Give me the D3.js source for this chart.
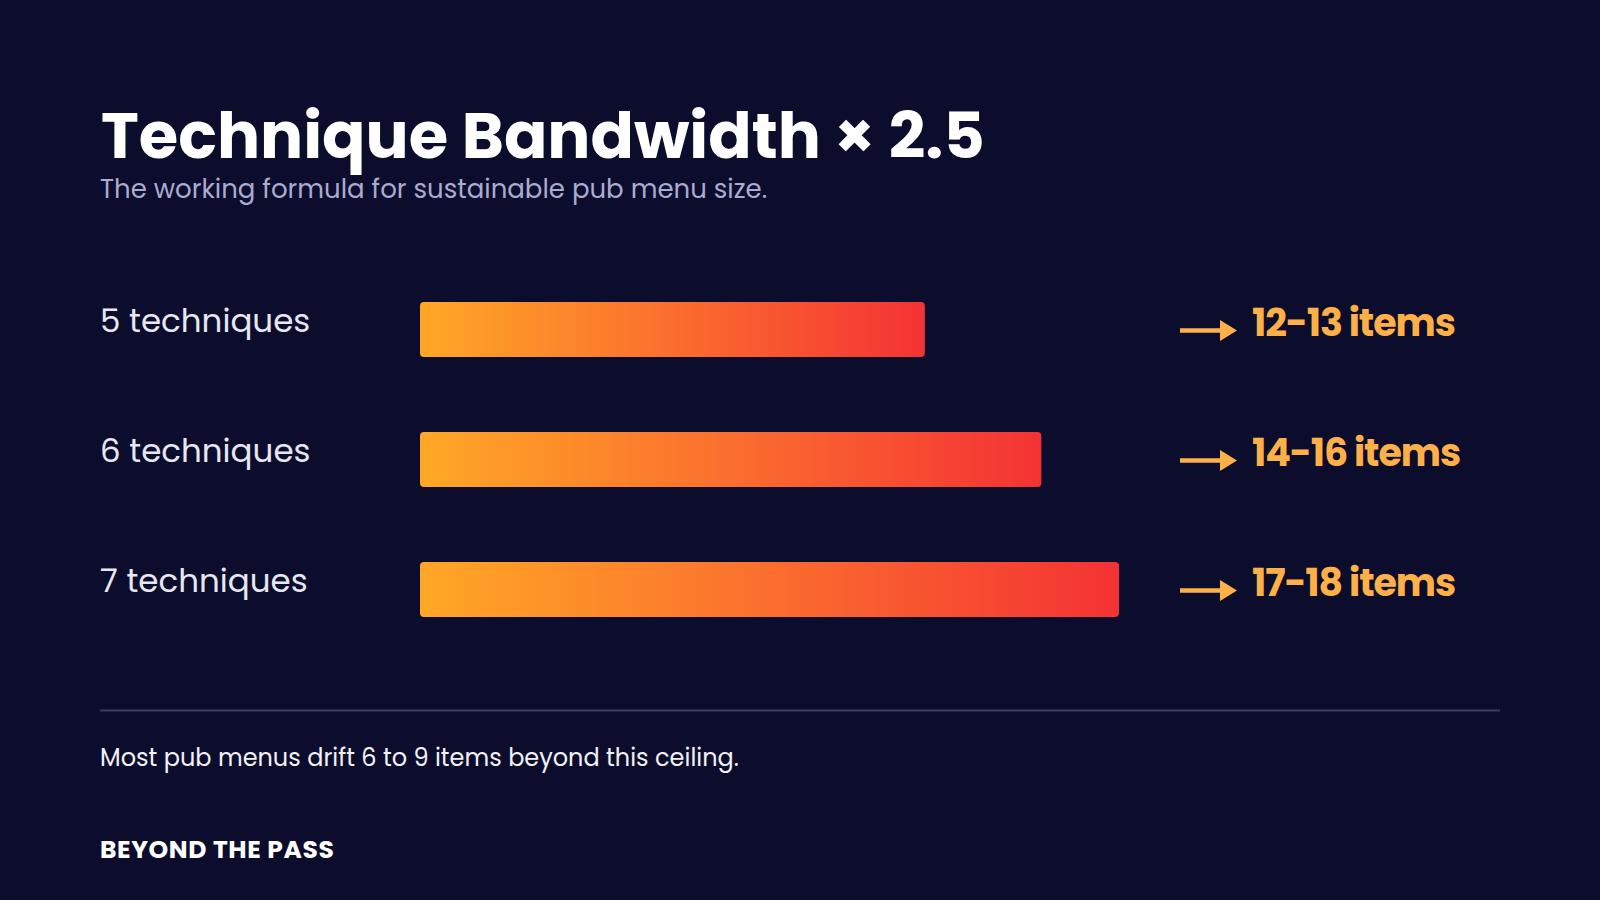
<!DOCTYPE html>
<html>
<head>
<meta charset="utf-8">
<script src="https://cdn.jsdelivr.net/npm/d3@7/dist/d3.min.js"></script>
<style>
  html, body { margin: 0; padding: 0; background: #0c0d2c; }
  svg { display: block; }
  text { font-family: Poppins, Inter, "DejaVu Sans", sans-serif; }
</style>
</head>
<body>
<svg id="chart" width="1600" height="900"></svg>
<script>
// ---- data ----
const categories = ["5 techniques", "6 techniques", "7 techniques"];
const itemsUpper = [13, 16, 18];
const valueLabels = ["12-13 items", "14-16 items", "17-18 items"];
const xDomain = [0, 18];
const titleText = "Technique Bandwidth \u00d7 2.5";
const subtitleText = "The working formula for sustainable pub menu size.";
const noteText = "Most pub menus drift 6 to 9 items beyond this ceiling.";
const brandText = "BEYOND THE PASS";

const W = 1600, H = 900;
const svg = d3.select("#chart");

svg.append("rect").attr("width", W).attr("height", H).attr("fill", "#0c0d2c");

// title & subtitle
svg.append("text").attr("x", 101).attr("y", 158)
  .attr("fill", "#ffffff").attr("font-size", 64).attr("font-weight", 700)
  .text(titleText);
svg.append("text").attr("x", 100).attr("y", 198)
  .attr("fill", "#a9abd0").attr("font-size", 26).attr("font-weight", 400)
  .text(subtitleText);

// scales
const x = d3.scaleLinear().domain(xDomain).range([420, 1119]);
const y = d3.scaleBand().domain(categories).range([302, 617]).paddingInner(75 / 130).paddingOuter(0);

const data = categories.map((c, i) => ({ cat: c, v: itemsUpper[i], label: valueLabels[i] }));

// gradient (per bar, objectBoundingBox)
const defs = svg.append("defs");
const grad = defs.append("linearGradient").attr("id", "barGrad")
  .attr("x1", "0%").attr("x2", "100%").attr("y1", "0%").attr("y2", "0%");
grad.append("stop").attr("offset", "0%").attr("stop-color", "#ffa826");
grad.append("stop").attr("offset", "50%").attr("stop-color", "#fb6e2e");
grad.append("stop").attr("offset", "100%").attr("stop-color", "#f43234");

const rows = svg.selectAll("g.row").data(data).join("g").attr("class", "row");

rows.append("rect")
  .attr("x", x(0)).attr("y", d => y(d.cat))
  .attr("width", d => x(d.v) - x(0)).attr("height", y.bandwidth())
  .attr("rx", 4).attr("ry", 4)
  .attr("fill", "url(#barGrad)");

rows.append("text")
  .attr("x", 100).attr("y", d => y(d.cat) + 30)
  .attr("fill", "#e6e7f2").attr("font-size", 32.5).attr("font-weight", 400)
  .text(d => d.cat);

// arrows
const arrowColor = "#fdb048";
const ax0 = x(xDomain[1]) + 61;
rows.append("line")
  .attr("x1", ax0).attr("x2", ax0 + 44)
  .attr("y1", d => y(d.cat) + y.bandwidth() / 2 + 1)
  .attr("y2", d => y(d.cat) + y.bandwidth() / 2 + 1)
  .attr("stroke", arrowColor).attr("stroke-width", 4.5);
rows.append("path")
  .attr("d", d => {
    const cy = y(d.cat) + y.bandwidth() / 2 + 1;
    return `M${ax0 + 40},${cy - 10.5} L${ax0 + 57},${cy} L${ax0 + 40},${cy + 10.5} Z`;
  })
  .attr("fill", arrowColor);

rows.append("text")
  .attr("x", ax0 + 72).attr("y", d => y(d.cat) + 34)
  .attr("fill", arrowColor).attr("font-size", 38).attr("font-weight", 700)
  .attr("letter-spacing", -1.1)
  .text(d => d.label);

// separator
svg.append("line").attr("x1", 100).attr("x2", 1500).attr("y1", 710.5).attr("y2", 710.5)
  .attr("stroke", "#3d3f5e").attr("stroke-width", 2);

// note & brand
svg.append("text").attr("x", 100).attr("y", 766)
  .attr("fill", "#f2f2f8").attr("font-size", 24).attr("font-weight", 400)
  .text(noteText);
svg.append("text").attr("x", 100).attr("y", 858)
  .attr("fill", "#ffffff").attr("font-size", 25).attr("font-weight", 700)
  .attr("letter-spacing", 0.6)
  .text(brandText);
</script>
</body>
</html>
